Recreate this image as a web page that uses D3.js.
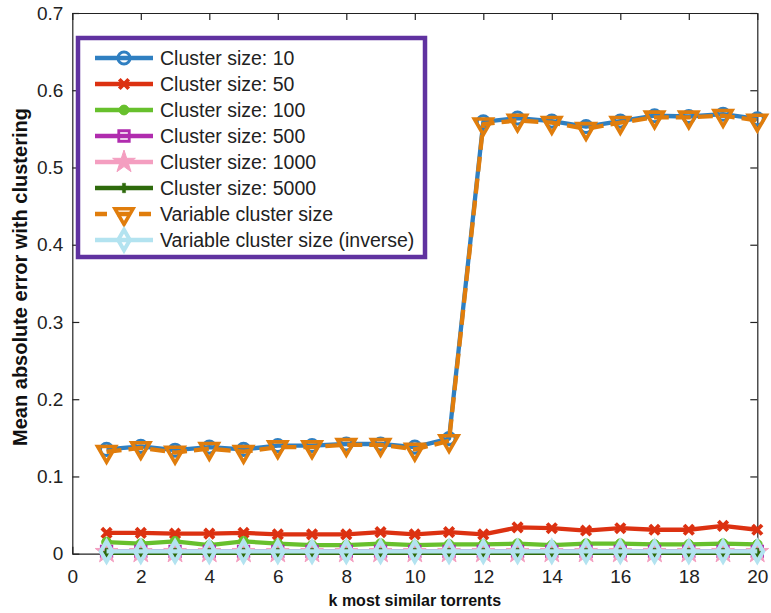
<!DOCTYPE html>
<html>
<head>
<meta charset="utf-8">
<script src="https://cdn.jsdelivr.net/npm/d3@7"></script>
<style>
  body { margin: 0; background: #fff; }
  svg { display: block; font-family: "Liberation Sans", Arial, sans-serif; }
</style>
</head>
<body>
<div id="chart"></div>
<script>
// data
const kValues = d3.range(1, 21);
const xTicks = [0, 2, 4, 6, 8, 10, 12, 14, 16, 18, 20];
const yTicks = [0, 0.1, 0.2, 0.3, 0.4, 0.5, 0.6, 0.7];

const size10 = [0.135, 0.139, 0.134, 0.138, 0.135, 0.140, 0.140, 0.142, 0.142, 0.138,
                0.149, 0.559, 0.564, 0.560, 0.553, 0.560, 0.567, 0.566, 0.569, 0.563];
const size50 = [0.027, 0.027, 0.026, 0.026, 0.027, 0.025, 0.025, 0.025, 0.028, 0.025,
                0.028, 0.025, 0.034, 0.033, 0.030, 0.033, 0.031, 0.031, 0.036, 0.031];
const size100 = [0.015, 0.013, 0.016, 0.011, 0.016, 0.013, 0.011, 0.011, 0.013, 0.011,
                 0.012, 0.012, 0.013, 0.011, 0.013, 0.013, 0.012, 0.012, 0.013, 0.012];
const size500 = [0.003, 0.003, 0.003, 0.003, 0.003, 0.003, 0.003, 0.003, 0.003, 0.003,
                 0.003, 0.003, 0.003, 0.003, 0.003, 0.003, 0.003, 0.003, 0.003, 0.003];
const size1000 = [0.002, 0.002, 0.002, 0.002, 0.002, 0.002, 0.002, 0.002, 0.002, 0.002,
                  0.002, 0.002, 0.002, 0.002, 0.002, 0.002, 0.002, 0.002, 0.002, 0.002];
const size5000 = [0.001, 0.001, 0.001, 0.001, 0.001, 0.001, 0.001, 0.001, 0.001, 0.001,
                  0.001, 0.001, 0.001, 0.001, 0.001, 0.001, 0.001, 0.001, 0.001, 0.001];
const variable = [0.132, 0.137, 0.131, 0.136, 0.132, 0.138, 0.138, 0.141, 0.141, 0.135,
                  0.146, 0.556, 0.561, 0.558, 0.550, 0.558, 0.565, 0.565, 0.567, 0.561];
const inverse = [0.003, 0.003, 0.003, 0.003, 0.003, 0.003, 0.003, 0.003, 0.003, 0.003,
                 0.003, 0.003, 0.003, 0.003, 0.003, 0.003, 0.003, 0.003, 0.003, 0.003];

const labels = ["Cluster size: 10", "Cluster size: 50", "Cluster size: 100", "Cluster size: 500",
                "Cluster size: 1000", "Cluster size: 5000", "Variable cluster size",
                "Variable cluster size (inverse)"];
const colors = ["#2f7fc1", "#dc3111", "#67c02d", "#b02cae", "#f49ec0", "#2e6a0c", "#e07d0c", "#b3e3f0"];

const width = 771, height = 613;
const margin = { top: 13, right: 13.7, bottom: 59.3, left: 72.3 };

const series = [
    { label: labels[0], values: size10, color: colors[0], symbol: d3.symbolCircle, size: 115, fill: "none", sw: 3, dash: null },
    { label: labels[1], values: size50, color: colors[1], symbol: d3.symbolTimes, size: 60, fill: "none", sw: 3.8, dash: null },
    { label: labels[2], values: size100, color: colors[2], symbol: d3.symbolCircle, size: 75, fill: colors[2], sw: 1, dash: null },
    { label: labels[3], values: size500, color: colors[3], symbol: d3.symbolSquare, size: 110, fill: "none", sw: 2.8, dash: null },
    { label: labels[4], values: size1000, color: colors[4], symbol: d3.symbolStar, size: 160, fill: colors[4], sw: 1, dash: null },
    { label: labels[5], values: size5000, color: colors[5], symbol: d3.symbolCross, size: 50, fill: colors[5], sw: 0.5, dash: null },
    { label: labels[6], values: variable, color: colors[6], symbol: d3.symbolTriangle, size: 140, fill: "none", sw: 3.6, dash: "15,7", rotate: 180 },
    { label: labels[7], values: inverse, color: colors[7], symbol: d3.symbolDiamond, size: 120, fill: "none", sw: 4, dash: null }
];

const svg = d3.select("#chart").append("svg")
    .attr("width", width)
    .attr("height", height);

const xScale = d3.scaleLinear().domain([0, 20]).range([margin.left, width - margin.right]);
const yScale = d3.scaleLinear().domain([0, 0.7]).range([height - margin.bottom, margin.top]);

// axes: box with inward ticks on all sides
const tickStyle = g => {
    g.selectAll("path.domain").attr("stroke", "#222").attr("stroke-width", 1.2);
    g.selectAll(".tick line").attr("stroke", "#222").attr("stroke-width", 1.2);
    g.selectAll("text").attr("font-size", 19).attr("fill", "#222")
        .attr("font-family", "Liberation Sans, Arial, sans-serif");
};

svg.append("g")
    .attr("transform", "translate(0," + yScale(0) + ")")
    .call(d3.axisBottom(xScale).tickValues(xTicks).tickFormat(d3.format("d"))
        .tickSizeInner(-7).tickSizeOuter(0).tickPadding(16))
    .call(tickStyle);

svg.append("g")
    .attr("transform", "translate(0," + yScale(0.7) + ")")
    .call(d3.axisTop(xScale).tickValues(xTicks).tickFormat("")
        .tickSizeInner(-7).tickSizeOuter(0))
    .call(tickStyle);

svg.append("g")
    .attr("transform", "translate(" + xScale(0) + ",0)")
    .call(d3.axisLeft(yScale).tickValues(yTicks).tickFormat(d => d === 0 ? "0" : d3.format(".1f")(d))
        .tickSizeInner(-7).tickSizeOuter(0).tickPadding(9))
    .call(tickStyle);

svg.append("g")
    .attr("transform", "translate(" + xScale(20) + ",0)")
    .call(d3.axisRight(yScale).tickValues(yTicks).tickFormat("")
        .tickSizeInner(-7).tickSizeOuter(0))
    .call(tickStyle);

// axis labels
svg.append("text")
    .attr("x", (xScale(0) + xScale(20)) / 2)
    .attr("y", 606)
    .attr("text-anchor", "middle")
    .attr("font-size", 16)
    .attr("font-weight", "bold")
    .attr("fill", "#111")
    .text("k most similar torrents");

svg.append("text")
    .attr("transform", "translate(27,277) rotate(-90)")
    .attr("text-anchor", "middle")
    .attr("font-size", 20)
    .attr("font-weight", "bold")
    .attr("fill", "#111")
    .text("Mean absolute error with clustering");

// lines and markers
const line = d3.line()
    .x((d, i) => xScale(kValues[i]))
    .y(d => yScale(d));

const plot = svg.append("g");

function drawMarker(sel, s, x, y) {
    sel.append("path")
        .attr("d", d3.symbol().type(s.symbol).size(s.size)())
        .attr("transform", "translate(" + x + "," + y + ")" + (s.rotate ? " rotate(" + s.rotate + ")" : ""))
        .attr("fill", s.fill)
        .attr("stroke", s.color)
        .attr("stroke-width", s.sw);
}

series.forEach(s => {
    const g = plot.append("g");
    g.append("path")
        .datum(s.values)
        .attr("d", line)
        .attr("fill", "none")
        .attr("stroke", s.color)
        .attr("stroke-width", 4.3)
        .attr("stroke-linejoin", "round")
        .attr("stroke-dasharray", s.dash);
    s.values.forEach((v, i) => drawMarker(g, s, xScale(kValues[i]), yScale(v)));
});

// legend
const legend = svg.append("g").attr("class", "legend");
legend.append("rect")
    .attr("x", 78)
    .attr("y", 38)
    .attr("width", 347)
    .attr("height", 219)
    .attr("fill", "#fff")
    .attr("stroke", "#6032a0")
    .attr("stroke-width", 4.5);

series.forEach((s, i) => {
    const yy = 58 + i * 26;
    const row = legend.append("g");
    row.append("line")
        .attr("x1", 95).attr("x2", 153)
        .attr("y1", yy).attr("y2", yy)
        .attr("stroke", s.color)
        .attr("stroke-width", 4.3)
        .attr("stroke-dasharray", s.dash ? "12,10" : null);
    drawMarker(row, s, 124, yy);
    row.append("text")
        .attr("x", 160)
        .attr("y", yy)
        .attr("dy", "0.36em")
        .attr("font-size", 19.5)
        .attr("fill", "#222")
        .text(s.label);
});
</script>
</body>
</html>
